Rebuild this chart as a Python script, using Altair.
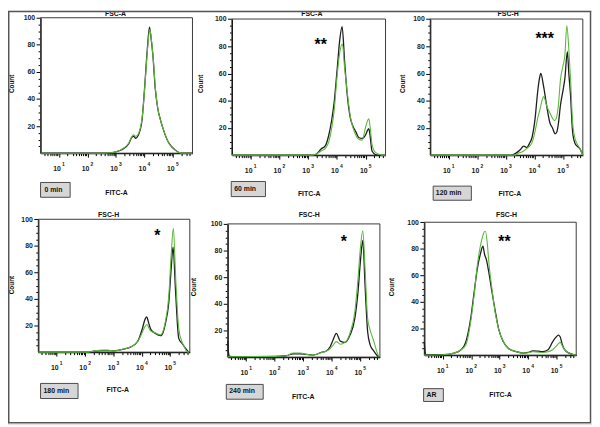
import altair as alt
import pandas as pd

# ---------------- data (x = log10 FITC-A, y = count) ----------------
XMIN, XMAX = 0.35, 5.69
DECADES = [1, 2, 3, 4, 5]
COUNT_TICKS = [20, 40, 60, 80, 100]

panel_titles = ["FSC-A", "FSC-A", "FSC-H", "FSC-H", "FSC-H", "FSC-H"]
panel_tags = ["0 min", "60 min", "120 min", "180 min", "240 min", "AR"]
panel_stars = ["", "**", "***", "*", "*", "**"]

p1_black_x = [0.35, 2.6, 2.8, 3.0, 3.2, 3.45, 3.55, 3.62, 3.7, 3.78, 3.85, 3.92, 4.0, 4.1, 4.18, 4.24, 4.3, 4.38, 4.47, 4.56, 4.65, 4.82, 4.95, 5.05, 5.2, 5.3, 5.69]
p1_black_y = [0, 0, 0.3, 1, 2.5, 7, 11.5, 12.5, 11, 13, 17, 25, 46, 76, 93, 84, 72, 48, 33, 25, 18.5, 9, 5, 3, 0.7, 0, 0]
p1_green_x = [0.35, 2.6, 2.8, 3.0, 3.2, 3.45, 3.55, 3.62, 3.7, 3.78, 3.85, 3.92, 4.0, 4.1, 4.19, 4.25, 4.31, 4.39, 4.48, 4.57, 4.66, 4.83, 4.96, 5.06, 5.2, 5.3, 5.69]
p1_green_y = [0, 0, 0.3, 1, 2.8, 7.5, 12, 13.5, 12.5, 14, 18, 26, 45, 74, 91.5, 83, 70, 47, 32, 24, 18, 8.5, 4.5, 2.5, 0.6, 0, 0]

p2_black_x = [0.35, 3.2, 3.3, 3.45, 3.6, 3.72, 3.82, 3.9, 4.01, 4.1, 4.18, 4.27, 4.36, 4.47, 4.56, 4.65, 4.76, 4.88, 5.0, 5.06, 5.11, 5.16, 5.22, 5.34, 5.45, 5.69]
p2_black_y = [0, 0, 1, 4.5, 7, 15, 26, 38, 63.5, 85, 94.4, 68, 44, 27, 21, 17.5, 13, 12.3, 15, 18, 19.5, 13, 3, 0.5, 0, 0]
p2_green_x = [0.35, 3.15, 3.3, 3.45, 3.6, 3.72, 3.82, 3.9, 4.01, 4.1, 4.19, 4.27, 4.36, 4.47, 4.56, 4.65, 4.76, 4.88, 5.0, 5.06, 5.11, 5.16, 5.22, 5.34, 5.5, 5.6, 5.69]
p2_green_y = [0, 0, 1, 3, 5, 10, 20, 32, 59, 75.6, 81.6, 63.5, 46, 28, 20, 15, 11.6, 11, 21, 25, 26.8, 20, 8, 2, 0.5, 0, 0]

p3_black_x = [0.35, 3.2, 3.35, 3.5, 3.62, 3.73, 3.82, 3.91, 4.02, 4.11, 4.17, 4.22, 4.31, 4.43, 4.54, 4.63, 4.72, 4.78, 4.83, 4.91, 5.0, 5.06, 5.15, 5.2, 5.26, 5.33, 5.41, 5.5, 5.58, 5.69]
p3_black_y = [0, 0, 1.5, 4, 6.7, 5.5, 8.5, 12.8, 27, 46.6, 56, 60, 51.4, 35.7, 23.6, 20, 15.7, 17, 22.5, 37, 48, 56, 76, 60, 44, 17.6, 9, 6.5, 5, 0]
p3_green_x = [0.35, 3.3, 3.45, 3.62, 3.73, 3.82, 3.91, 4.02, 4.11, 4.2, 4.26, 4.32, 4.38, 4.43, 4.54, 4.63, 4.7, 4.76, 4.83, 4.91, 5.0, 5.06, 5.13, 5.2, 5.26, 5.33, 5.41, 5.5, 5.58, 5.69]
p3_green_y = [0, 0, 1.5, 3, 5, 6.5, 9, 17.6, 27, 34.5, 40, 43, 40, 36, 31, 27, 25.4, 27, 35.7, 56, 66, 73, 95, 78, 56, 25, 12.7, 8, 5, 0]

p4_black_x = [0.35, 2.1, 2.3, 2.6, 2.8, 3.0, 3.2, 3.4, 3.6, 3.85, 4.02, 4.1, 4.17, 4.24, 4.31, 4.48, 4.66, 4.75, 4.83, 4.95, 5.03, 5.1, 5.19, 5.3, 5.41, 5.5, 5.58, 5.66]
p4_black_y = [0, 0, 0.8, 1.2, 1.2, 1, 1.5, 2.5, 3.8, 8, 17.8, 24, 26.5, 22, 17.3, 14, 12.4, 15, 21.5, 37.6, 62, 79, 45, 10.4, 6.7, 4, 1.7, 0]
p4_green_x = [0.35, 2.1, 2.3, 2.6, 2.8, 3.0, 3.2, 3.4, 3.6, 3.85, 4.02, 4.1, 4.18, 4.24, 4.31, 4.48, 4.66, 4.75, 4.83, 4.95, 5.03, 5.11, 5.19, 5.3, 5.41, 5.5, 5.58, 5.66]
p4_green_y = [0, 0, 0.8, 1.5, 1.5, 1, 1.5, 2.5, 3.8, 8, 15, 19, 20.8, 18.5, 16, 14.5, 13, 16, 23, 42.5, 72, 93.3, 57, 17.8, 8, 4, 0.5, 0]

p5_black_x = [0.35, 0.38, 0.42, 0.6, 2.0, 2.4, 2.65, 2.9, 3.1, 3.33, 3.67, 3.78, 3.95, 4.05, 4.16, 4.3, 4.47, 4.64, 4.81, 4.92, 5.01, 5.09, 5.17, 5.26, 5.35, 5.46, 5.6, 5.66]
p5_black_y = [12, 3, 0.5, 0.3, 0.5, 1, 2.5, 2.5, 2, 1.5, 3.7, 4.2, 8, 13, 17.8, 12, 11, 16.5, 29, 48.6, 73, 87.6, 53.6, 19, 9, 5, 1, 0]
p5_green_x = [0.35, 2.0, 2.4, 2.65, 2.9, 3.1, 3.33, 3.67, 3.78, 3.95, 4.05, 4.16, 4.3, 4.47, 4.64, 4.81, 4.92, 5.01, 5.09, 5.17, 5.26, 5.35, 5.46, 5.6, 5.66]
p5_green_y = [0.3, 0.5, 1, 3, 3, 2.2, 1.5, 3.7, 4.2, 6.4, 9, 11.6, 9.6, 11, 18, 34, 58.5, 83, 94.8, 66, 29, 20, 13, 3, 0]

p6_black_x = [0.35, 0.38, 0.42, 1.0, 1.4, 1.64, 1.81, 1.98, 2.1, 2.21, 2.32, 2.41, 2.47, 2.53, 2.62, 2.73, 2.85, 2.96, 3.13, 3.31, 3.6, 3.83, 4.0, 4.17, 4.35, 4.52, 4.7, 4.86, 4.98, 5.06, 5.12, 5.2, 5.27, 5.44, 5.67]
p6_black_y = [10, 2, 0.3, 0.3, 1.5, 4, 10, 27.5, 47, 64.6, 76, 82, 75.7, 72, 62, 47.3, 32.4, 20, 10, 5, 2.5, 1.5, 2, 3.2, 3, 2.7, 4, 10, 13.5, 15, 14, 8, 4.5, 1.5, 0]
p6_green_x = [0.35, 1.0, 1.4, 1.64, 1.81, 1.98, 2.1, 2.21, 2.32, 2.41, 2.47, 2.5, 2.56, 2.62, 2.73, 2.85, 2.96, 3.13, 3.31, 3.6, 3.83, 4.0, 4.17, 4.35, 4.52, 4.7, 4.86, 4.98, 5.06, 5.13, 5.2, 5.27, 5.44, 5.67]
p6_green_y = [0, 0.3, 1.5, 4, 7.6, 25, 45, 67, 82, 90, 93, 93, 85, 69.5, 49.7, 31, 20, 10, 5, 2.5, 1.5, 1.8, 2.5, 2.2, 2, 2.5, 4, 6.5, 8.5, 9.6, 7, 4.5, 1.5, 0]

curves = [
    (p1_black_x, p1_black_y, p1_green_x, p1_green_y),
    (p2_black_x, p2_black_y, p2_green_x, p2_green_y),
    (p3_black_x, p3_black_y, p3_green_x, p3_green_y),
    (p4_black_x, p4_black_y, p4_green_x, p4_green_y),
    (p5_black_x, p5_black_y, p5_green_x, p5_green_y),
    (p6_black_x, p6_black_y, p6_green_x, p6_green_y),
]

# ---------------- layout (pixels inside the chart) ----------------
W, H = 592, 419
FONT = "Liberation Sans"
BLACK = "#1e1e1e"
GREEN = "#5cb83c"

layout = [
    dict(x0=33, x1=187, yt=7, yb=144.3, title=(109, 3), count=(4, 74), fitc=(110, 185),
         box=(33, 174, 63, 189), tag=(37, 181.5), star=(0, 0)),
    dict(x0=227, x1=382.7, yt=8.3, yb=146.3, title=(308, 3), count=(196, 74), fitc=(305.3, 185.3),
         box=(226.3, 173, 261, 188.3), tag=(229.3, 180.7), star=(317, 31)),
    dict(x0=428, x1=582.7, yt=8.3, yb=146.3, title=(507, 3), count=(400, 74), fitc=(508.7, 185.3),
         box=(431, 177.7, 469.7, 192), tag=(433.7, 184.7), star=(544, 24.3)),
    dict(x0=30.7, x1=184.3, yt=211.3, yb=346, title=(102, 207), count=(4, 278), fitc=(111.3, 384.7),
         box=(33, 377.7, 71, 393), tag=(36, 385.7), star=(151.3, 224.7)),
    dict(x0=222.7, x1=377, yt=216, yb=351, title=(305.3, 207), count=(189, 280), fitc=(299.3, 391),
         box=(221.3, 378.7, 258.7, 393.7), tag=(224.3, 385.7), star=(340.3, 230)),
    dict(x0=422, x1=576, yt=214.3, yb=349, title=(505.3, 207), count=(389, 280), fitc=(499.3, 389.7),
         box=(421.3, 383, 441.3, 396), tag=(424.3, 389.7), star=(503.3, 230.3)),
]

minor_x = []
for n in range(0, 6):
    for k in [2, 3, 4, 5, 6, 7, 8, 9]:
        import math
        v = n + math.log10(k)
        if XMIN < v < XMAX:
            minor_x.append(round(v, 4))
minor_y = [v for v in range(5, 100, 5) if v % 20 != 0]


def txt(s, x, y, size=7, weight="bold", angle=0, align="center", baseline="middle", color="#111"):
    return alt.Chart(pd.DataFrame({"t": [s]})).mark_text(
        fontSize=size, fontWeight=weight, angle=angle, align=align, baseline=baseline,
        color=color, font=FONT
    ).encode(text="t:N", x=alt.value(x), y=alt.value(y))


def panel(i):
    L = layout[i]
    xs = alt.Scale(domain=[XMIN, XMAX], range=[L["x0"], L["x1"]], nice=False, zero=False)
    ys = alt.Scale(domain=[0, 100], range=[L["yb"], L["yt"]], nice=False, zero=False)
    xoff = L["yb"] - H
    yoff = -L["x0"]
    bx, by, gx, gy = curves[i]
    dfb = pd.DataFrame({"fitc": bx, "count": by})
    dfg = pd.DataFrame({"fitc": gx, "count": gy})
    frame_df = pd.DataFrame({"a": [XMIN], "b": [XMAX], "c": [0], "d": [100]})

    main_x = alt.Axis(orient="bottom", offset=xoff, values=DECADES, labelExpr="'10'", grid=False,
                      title=None, domainColor="#000", domainWidth=1.2, tickColor="#000", tickSize=4,
                      labelFontSize=7, labelFontWeight="bold", labelColor="#222", labelPadding=8,
                      labelOffset=-2.5, labelFlush=False, labelOverlap=False, labelFont=FONT)
    main_y = alt.Axis(orient="left", offset=yoff, values=COUNT_TICKS, grid=False, title=None,
                      domainColor="#000", domainWidth=1.2, tickColor="#000", tickSize=4.5,
                      labelFontSize=7, labelFontWeight="bold", labelColor="#222", labelPadding=1.5,
                      labelFlush=False, labelOverlap=False, labelFont=FONT)
    sup_x = alt.Axis(orient="bottom", offset=xoff, values=DECADES, labelExpr="datum.value + ''",
                     grid=False, title=None, domain=False, ticks=False, tickSize=0,
                     labelFontSize=5, labelFontWeight="bold", labelColor="#222", labelPadding=9,
                     labelOffset=4, labelFlush=False, labelOverlap=False, labelFont=FONT)
    minor_ax = alt.Axis(orient="bottom", offset=xoff, values=minor_x, grid=False, title=None,
                        domain=False, labels=False, tickColor="#000", tickSize=2.5)
    minor_ay = alt.Axis(orient="left", offset=yoff, values=minor_y, grid=False, title=None,
                        domain=False, labels=False, tickColor="#000", tickSize=2.5)

    frame = alt.Chart(frame_df).mark_rect(fillOpacity=0, stroke="#3a3a3a", strokeWidth=1).encode(
        x=alt.X("a:Q", scale=xs, axis=minor_ax), x2="b:Q",
        y=alt.Y("c:Q", scale=ys, axis=minor_ay), y2="d:Q")
    black = alt.Chart(dfb).mark_line(color=BLACK, strokeWidth=1.3, interpolate="monotone").encode(
        x=alt.X("fitc:Q", scale=xs, axis=main_x),
        y=alt.Y("count:Q", scale=ys, axis=main_y))
    green = alt.Chart(dfg).mark_line(color=GREEN, strokeWidth=1.1, interpolate="monotone").encode(
        x=alt.X("fitc:Q", scale=xs, axis=sup_x),
        y=alt.Y("count:Q", scale=ys, axis=None))

    bx0, by0, bx1, by1 = L["box"]
    box = alt.Chart(pd.DataFrame({"t": [panel_tags[i]]})).mark_rect(
        fill="#d6d6d6", stroke="#4a4a4a", strokeWidth=1
    ).encode(x=alt.value(bx0), x2=alt.value(bx1), y=alt.value(by0), y2=alt.value(by1))

    parts = [frame, black, green, box,
             txt(panel_titles[i], *L["title"]),
             txt("Count", *L["count"], size=6.5, angle=270),
             txt("FITC-A", *L["fitc"]),
             txt(panel_tags[i], *L["tag"], align="left")]
    if panel_stars[i]:
        sx, sy = L["star"]
        parts.append(txt(panel_stars[i], sx, sy + 9, size=16, baseline="alphabetic", color="#000"))
    return parts


layers = []
for i in range(6):
    layers += panel(i)

border = alt.Chart(pd.DataFrame({"t": [0]})).mark_rect(
    fillOpacity=0, stroke="#555", strokeWidth=1.5
).encode(x=alt.value(0.75), x2=alt.value(590.5), y=alt.value(0.75), y2=alt.value(417.5))
layers.append(border)

chart = alt.layer(*layers).resolve_scale(
    x="independent", y="independent"
).resolve_axis(
    x="independent", y="independent"
).properties(
    width=W, height=H, autosize=alt.AutoSizeParams(type="none"), padding=0
).configure_view(stroke="transparent").configure(background="white")

chart.save("out.html", embed_options={"renderer": "svg", "actions": False})
